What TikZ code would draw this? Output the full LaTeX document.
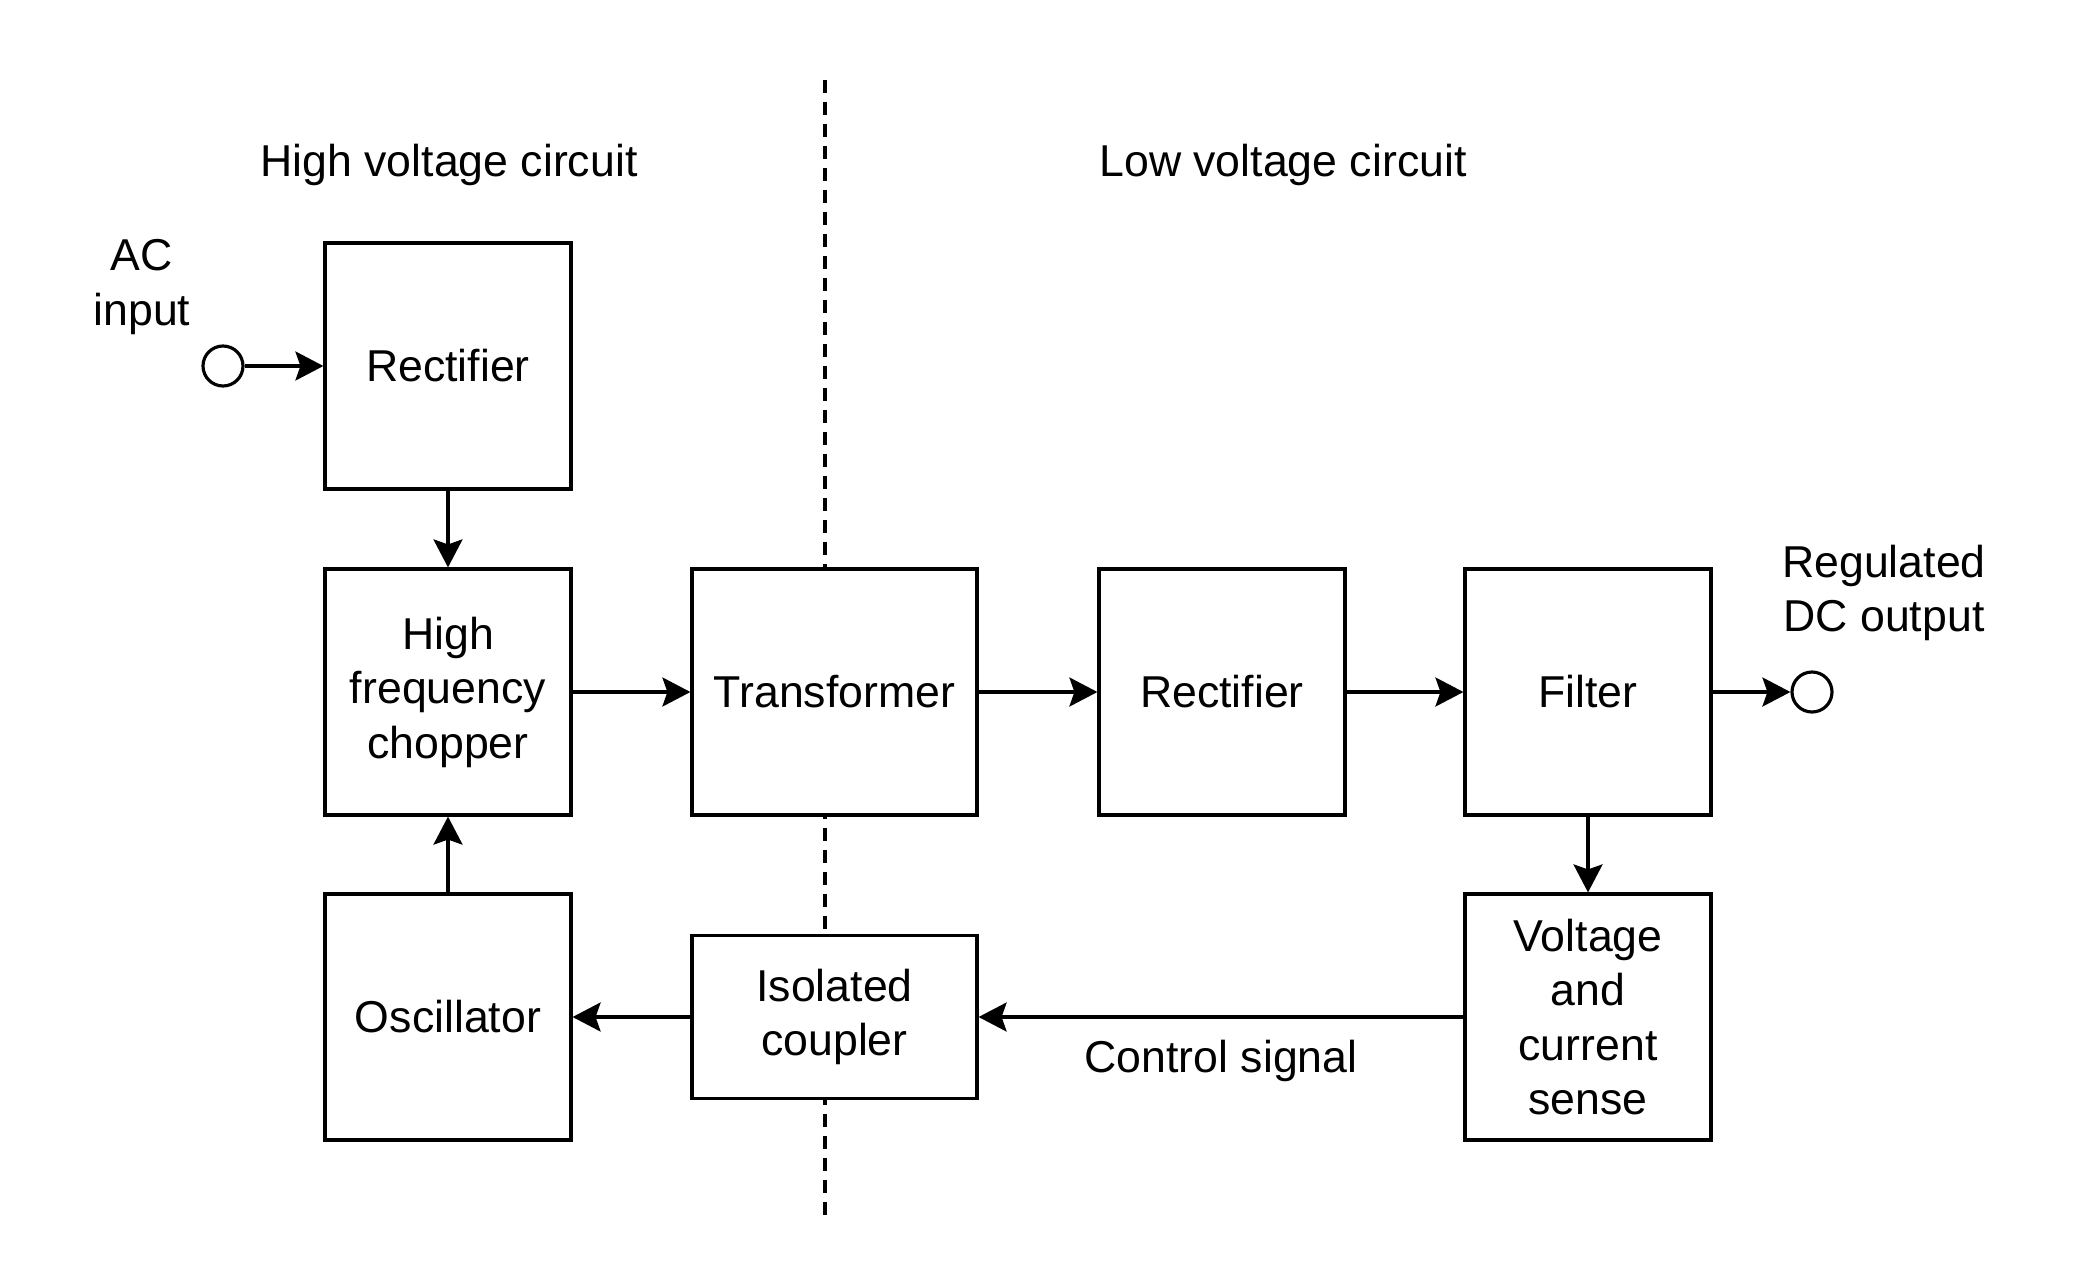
\documentclass[tikz,border=0pt]{standalone}
\usepackage{fontspec}
\setmainfont{Liberation Sans}
\usetikzlibrary{arrows.meta, positioning}
\tikzstyle{block} = [rectangle, minimum width=2.46cm, minimum height=2.46cm,
                     align=center, draw=black, fill=white, line width=0.9pt,
                     font=\fontsize{12.7}{15.5}\selectfont]
\tikzstyle{wide} = [block, minimum width=2.85cm]
\tikzstyle{port} = [circle, minimum size=0.4cm, inner sep=0pt, draw=black, line width=0.9pt]
\tikzstyle{label} = [align=center, font=\fontsize{12.7}{15.5}\selectfont]
\tikzstyle{arrow} = [-{Stealth[length=2.8mm, width=2.9mm, inset=0.5mm]}, line width=0.9pt]

\begin{document}
\begin{tikzpicture}
    \useasboundingbox (0,0) rectangle (20.82,12.63);

    % isolation barrier
    \draw[line width=0.9pt, dash pattern=on 0.13cm off 0.09cm] (8.25,11.83) -- (8.25,0.41);

    \node[label] (hvtitle) at (4.49,10.98) {High voltage circuit};
    \node[label] (lvtitle) at (12.83,10.98) {Low voltage circuit};

    \node[block] (rect1) at (4.48,8.97) {Rectifier};
    \node[block] (chopper) at (4.48,5.71) {High\\frequency\\chopper};
    \node[block] (osc) at (4.48,2.46) {Oscillator};

    \node[wide] (trans) at (8.345,5.71) {Transformer};
    \node[wide, minimum height=1.63cm] (coupler) at (8.345,2.46) {Isolated\\coupler};

    \node[block] (rect2) at (12.22,5.71) {Rectifier};
    \node[block] (filter) at (15.88,5.71) {Filter};
    \node[block] (sense) at (15.88,2.46) {Voltage\\and\\current\\sense};

    \node[port] (acin) at (2.23,8.97) {};
    \node[port] (dcout) at (18.12,5.71) {};
    \node[label] (aclabel) at (1.42,9.76) {AC\\input};
    \node[label] (dclabel) at (18.84,6.70) {Regulated\\DC output};

    \draw[arrow] (acin) -- (rect1);
    \draw[arrow] (rect1) -- (chopper);
    \draw[arrow] (chopper) -- (trans);
    \draw[arrow] (trans) -- (rect2);
    \draw[arrow] (rect2) -- (filter);
    \draw[arrow] (filter) -- (dcout);
    \draw[arrow] (filter) -- (sense);
    \draw[arrow] (sense) -- node[label, below=1mm] (ctrl) {Control signal} (coupler);
    \draw[arrow] (coupler) -- (osc);
    \draw[arrow] (osc) -- (chopper);
\end{tikzpicture}
\end{document}
